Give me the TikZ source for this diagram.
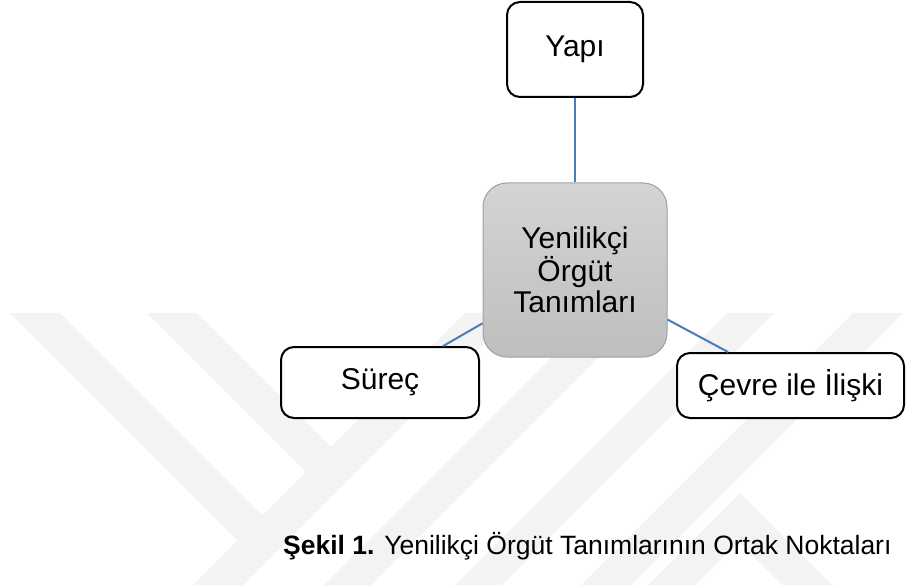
\documentclass[tikz,border=0pt]{standalone}
\usepackage{fontspec}
\setmainfont{Liberation Sans}
\definecolor{linkblue}{RGB}{74,126,187}
\definecolor{hubtop}{RGB}{212,212,212}
\definecolor{hubbot}{RGB}{190,190,190}
\definecolor{hubedge}{RGB}{160,160,160}
\definecolor{markgray}{RGB}{243,243,243}
\tikzset{
  leafbox/.style={draw=black, line width=2pt, fill=white, rounded corners=13pt,
    font=\fontsize{30}{31}\selectfont, inner sep=0pt},
  hubbox/.style={draw=hubedge, line width=1pt, top color=hubtop, bottom color=hubbot,
    rounded corners=24pt, align=center, font=\fontsize{30}{31}\selectfont, inner sep=0pt},
  link/.style={draw=linkblue, line width=2pt},
  emblem/.style={fill=markgray, draw=none}
}
\begin{document}
\begin{tikzpicture}[x=1pt, y=-1pt]
\useasboundingbox (0,0) rectangle (912,588);
\fill[white] (0,0) rectangle (912,588);

% faint background emblem
\begin{scope}
\clip (0,313) rectangle (912,585);
\path[emblem] (10,313) -- (60,313) -- (262.5,515.5) -- (237.5,540.5) -- cycle;
\path[emblem] (147,313) -- (197,313) -- (331,447) -- (306,472) -- cycle;
\path[emblem] (465,313) -- (515,313) -- (243,585) -- (193,585) -- cycle;
\path[emblem] (596,313) -- (643,313) -- (371,585) -- (324,585) -- cycle;
\path[emblem] (727,313) -- (774,313) -- (502,585) -- (455,585) -- cycle;
\path[emblem] (853,313) -- (903,313) -- (631,585) -- (581,585) -- cycle;
\path[emblem] (740,493) -- (832,585) -- (782,585) -- (738.5,541.5) -- (695,585) -- (648,585) -- cycle;
\end{scope}

% nodes
\node[leafbox, minimum width=136pt, minimum height=95pt] (yapi) at (575,49.5) {Yapı};
\node[hubbox, minimum width=184pt, minimum height=174pt] (hub) at (575,270)
  {Yenilikçi\\Örgüt\\Tanımları};
\node[leafbox, minimum width=198pt, minimum height=71pt] (surec) at (380,382.5) {Süreç};
\node[leafbox, minimum width=227pt, minimum height=65pt] (cevre) at (790.5,385.5) {Çevre ile İlişki};

% connectors
\draw[link] (hub) -- (yapi);
\draw[link] (hub) -- (surec);
\draw[link] (hub) -- (cevre);

% caption
\node[anchor=base west, inner sep=0pt, font=\fontsize{26.5}{30}\selectfont] (caption) at (283,554)
  {\textbf{Şekil 1.} Yenilikçi Örgüt Tanımlarının Ortak Noktaları};
\end{tikzpicture}
\end{document}
